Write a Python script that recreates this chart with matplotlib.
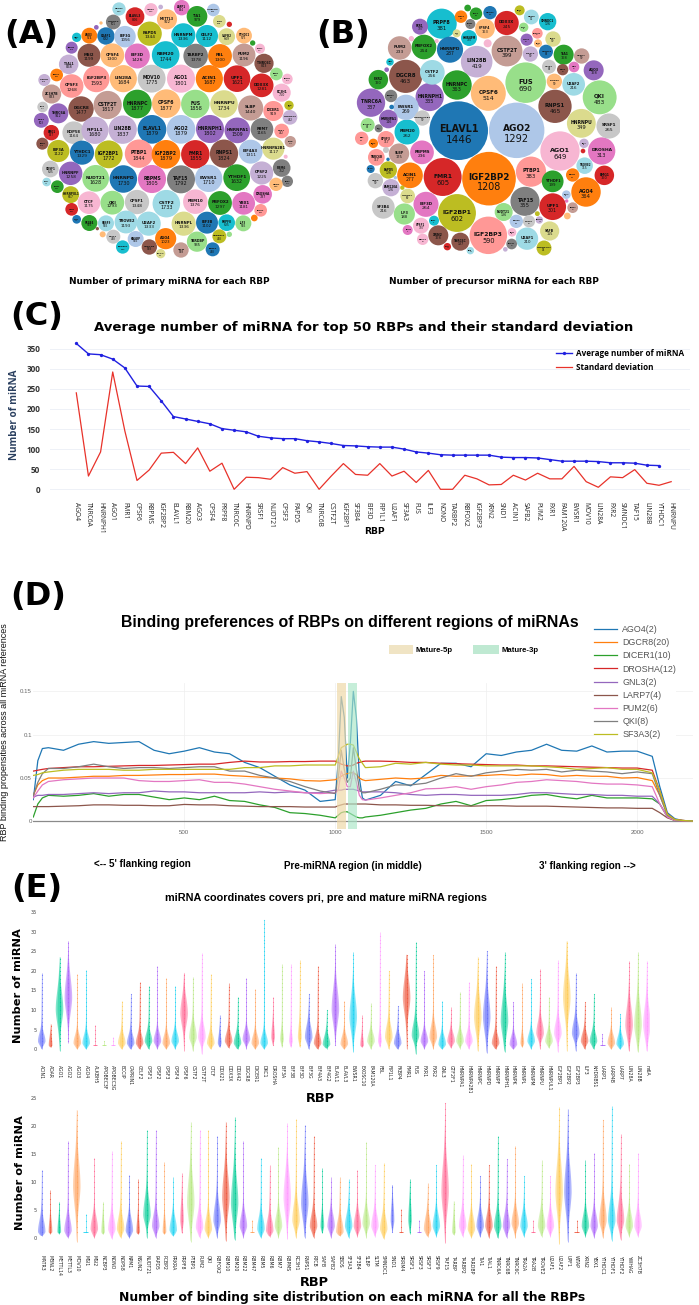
import numpy as np
import matplotlib
matplotlib.use("Agg")
import matplotlib.pyplot as plt
from matplotlib.patches import Circle, Rectangle

W, H = 699, 1305
fig = plt.figure(figsize=(W / 100, H / 100), dpi=100, facecolor="white")


def px_axes(x0, y0, x1, y1, **kw):
    return fig.add_axes([x0 / W, 1 - y1 / H, (x1 - x0) / W, (y1 - y0) / H], **kw)


# ------------------------------------------------------------------ panel A data
a_names = ["NSUN2","ELAVL3","ATXN2","","METTL3","LARP1","TIA1","APOBEC3F","HNRNPK","PAPD5",
 "HNRNPM","CELF2","SAFB","","SAFB2","YTHDC2","LARP7","AGO3","U2AF1","EIF3G",
 "","","EIF4G2","MSI2","CPSF4","EIF3D","RBM20","TARBP2","FBL","PUM2",
 "TNRC6C","","RBM22","TIAL1","SRSF7","CAPRIN1","IGF2BP3","LIN28A","MOV10","AGO1",
 "ACIN1","UPF1","DDX3X","SND1","RBM47","RC3H1","CPSF3","ZC3H7B","YBX3","HNRNPA0",
 "DICER1","GNL3","DGCR8","CSTF2T","HNRNPC","CPSF6","FUS","HNRNPU","SLBP","TNRC6A",
 "FXR2","NOP58","FIP1L1","LIN28B","ELAVL1","AGO2","HNRNPH1","HNRNPA1","RBM7","FXR1",
 "EMG1","RBM5","EIF3A","YTHDC1","IGF2BP1","PTBP1","IGF2BP2","FMR1","RNPS1","EIF4A3",
 "HNRNPA2B1","RTCB","","RBM6","SBDS","SRSF1","HNRNPF","NUDT21","HNRNPD","RBPMS",
 "TAF15","EWSR1","YTHDF1","CPSF2","NONO","DDX21","NPM1","HNRNPUL1","DROSHA","CTCF",
 "QKI","CPSF1","CSTF2","RBM10","RBFOX2","YBX1","XRN2","TRA2A","SF3A3","SF3B4",
 "SRSF9","TROVE2","U2AF2","HNRNPL","EIF3B","PRPF8","ILF3","","","",
 "SRSF3","KHSRP","AGO4","KHDRBS1","","SMNDC1","TNRC6B","SLTM","TARDBP","FKBP4","METTL14"]
a_values = [403,806,392,50,922,544,979,360,501,1344,
 1336,1112,368,65,649,575,199,574,692,1056,
 50,25,329,1199,1300,1426,1744,1378,1300,1196,
 843,65,229,868,367,329,1593,1684,1775,1801,
 1687,1621,1281,367,260,750,1268,833,199,492,
 919,260,1477,1817,1877,1877,1858,1734,1440,912,
 503,1164,1680,1837,1879,1879,1802,1509,1165,492,
 547,329,1122,1329,1772,1844,1879,1855,1824,1311,
 1117,294,37,712,294,635,1258,1628,1730,1805,
 1792,1710,1632,1225,406,172,367,657,787,1175,
 1293,1348,1733,1376,1297,1181,367,367,172,585,
 585,1193,1333,1336,1102,635,585,102,25,82,
 448,585,1023,448,65,406,538,538,935,448,199]
a_x = [357,405,453,482,501,545,591,640,340,449,
 550,621,658,688,680,732,230,268,318,375,
 289,303,215,267,337,412,497,587,660,732,
 792,758,780,206,170,133,289,370,455,543,
 628,711,785,829,862,845,215,155,867,870,
 820,128,243,323,412,499,586,672,752,175,
 124,221,285,368,456,543,630,712,786,845,
 154,127,175,246,326,417,498,586,672,752,
 820,871,857,845,862,151,212,287,370,456,
 543,626,710,785,828,140,172,212,788,267,
 337,411,499,586,660,731,215,782,230,268,
 318,378,446,551,621,680,730,763,292,308,
 340,407,497,658,688,368,448,543,591,638,482]
a_y = [27,50,29,21,58,23,49,30,66,101,
 106,108,64,73,110,107,112,107,108,110,
 82,69,143,166,166,168,165,168,168,165,
 190,129,146,193,225,240,237,236,236,236,
 236,236,256,222,237,278,258,282,316,352,
 333,321,327,315,312,311,312,312,324,340,
 361,398,391,389,388,388,387,391,388,393,
 398,431,453,458,463,461,463,463,461,455,
 446,425,470,504,544,507,520,535,537,537,
 538,535,533,519,553,546,560,584,583,608,
 608,606,611,605,609,610,628,631,658,669,
 670,666,671,671,668,668,670,654,686,703,
 710,717,716,709,703,741,741,750,725,748,761]
a_colors = [19,6,13,9,3,12,4,1,14,16,
 18,18,17,6,17,3,18,2,0,1,
 8,3,8,10,3,12,18,14,2,11,
 10,4,13,9,2,9,7,3,15,13,
 2,6,6,5,13,13,7,11,16,9,
 7,15,10,11,4,3,5,17,11,8,
 8,15,9,9,0,1,8,8,14,7,
 6,10,16,0,16,7,2,6,10,1,
 17,11,13,14,14,15,8,5,0,12,
 14,1,4,9,3,19,4,16,12,13,
 5,15,19,13,4,12,6,7,0,4,
 19,19,19,17,0,18,5,2,10,3,
 15,1,2,16,5,18,10,11,5,0,17]

# ------------------------------------------------------------------ panel B data
b_names = ["ELAVL1","AGO2","IGF2BP2","FMR1","IGF2BP1","IGF2BP3","FUS","CPSF6","AGO1","QKI",
 "RNPS1","DGCR8","LIN28B","CSTF2T","HNRNPC","PRPF8","HNRNPU","TNRC6A","HNRNPH1","DROSHA",
 "AGO4","SRSF1","PTBP1","TAF15","UPF1","EIF3D","ACIN1","RBPMS","RBM20","EWSR1",
 "CSTF2","PUM2","RBFOX2","HNRNPD","DDX3X","CPSF4","SF3B4","ILF3","SLBP","U2AF2",
 "YTHDF1","U2AF1","XRN2","TNRC6C","SAFB","TROVE2","EMG1","TIA1","HNRNPUL1","FXR2",
 "PAPD5","FAM120A","CPSF3","TNRC6B","SBDS","NUDT21","HNRNPA1","HNRNPL","CPSF1","ELAVL3",
 "FBL","HNRNPM","FIP1L1","SRSF7","AGO3","CPSF2","NONO","MSI2","LIN28A","ILF2",
 "YTHDC1","HNRNPK","CPSF7","RBM3","RBMX","SMNDC1","SND1","NSUN2","TIAL1","SAFB2",
 "LARP7","NCBP3","FXR1","GNL3","","","HNRNPA2B1","","CELF2","LARP1",
 "RBM22","RBM7","","","SF3A3","","EIF4G2","","DKC1","",
 "RBM5","","RBM10","MOV10","FKBP4","NPM1","","SRSF9","KHDRBS1","SRSF3",
 "DICER1","","METTL3","TRA2A","DDX21","RTCB","","",""]
b_values = [1446,1292,1208,605,602,590,690,514,649,483,
 465,463,419,399,363,381,349,337,335,313,
 364,265,383,355,301,264,277,236,262,269,
 256,233,254,287,245,163,216,188,175,216,
 199,210,168,137,155,115,160,168,94,160,
 126,126,117,117,99,136,146,90,107,82,
 75,107,99,99,168,82,54,48,99,99,
 82,48,62,37,92,126,42,75,65,19,
 65,42,107,27,27,7,99,12,27,23,
 65,27,9,9,37,15,27,5,37,9,
 75,19,31,62,48,42,10,75,23,31,
 48,9,54,42,23,23,8,5,5]
b_x = [446,620,537,398,441,535,647,535,750,869,
 735,287,500,591,441,395,814,183,359,875,
 828,897,663,645,728,348,300,336,291,288,
 367,269,342,420,590,525,220,283,267,791,
 728,651,385,451,719,824,883,761,702,205,
 235,243,228,199,196,581,235,293,333,173,
 155,477,661,815,851,717,758,792,733,729,
 708,682,650,641,664,713,629,540,498,473,
 453,481,330,440,533,380,337,304,684,240,
 243,206,230,245,190,228,182,234,822,819,
 788,772,769,657,788,372,682,619,688,606,
 605,586,338,293,412,481,277,256,770]
b_y = [392,391,536,531,639,706,248,280,453,292,
 319,229,185,153,255,71,370,308,291,453,
 576,378,515,604,620,613,526,457,396,322,
 217,144,141,149,69,86,622,642,461,253,
 544,716,706,725,693,497,526,164,744,239,
 510,563,418,472,542,636,357,588,677,375,
 415,114,162,168,211,200,209,201,244,117,
 155,100,119,82,51,65,31,38,41,24,
 50,72,80,100,130,123,354,116,130,186,
 288,385,209,321,430,450,507,478,430,453,
 525,648,584,664,623,662,641,664,660,697,
 732,748,718,690,740,752,563,533,603]
b_colors = [0,1,2,6,16,7,5,3,13,5,
 10,10,9,11,4,18,17,8,8,12,
 2,15,7,14,6,12,2,12,18,1,
 19,11,4,0,6,3,15,5,11,19,
 4,19,10,10,17,19,6,4,16,4,
 16,9,7,7,15,5,8,17,13,5,
 7,18,9,11,8,15,10,12,3,17,
 0,7,8,5,19,18,16,0,4,4,
 2,14,8,17,13,13,15,13,3,18,
 14,14,8,0,2,15,0,0,9,6,
 2,3,1,15,11,18,16,1,9,13,
 14,9,13,12,6,19,16,1,12]

# ------------------------------------------------------------------ panel C data
c_rbps = ["AGO4","TNRC6A","HNRNPH1","AGO1","FMR1","CPSF6","RBPMS","IGF2BP2","ELAVL1","RBM20",
 "AGO3","CPSF4","PRPF8","TNRC6C","HNRNPD","SRSF1","NUDT21","CPSF3","PAPD5","QKI",
 "TNRC6B","CSTF2T","IGF2BP1","SF3B4","EIF3D","FIP1L1","U2AF1","SF3A3","FUS","ILF3",
 "NONO","TARBP2","RBFOX2","IGF2BP3","XRN2","SND1","ACIN1","SAFB2","PUM2","FXR1",
 "FAM120A","EWSR1","MOV10","LIN28A","FXR2","SMNDC1","TAF15","LIN28B","YTHDC1","HNRNPU"]
c_mean = [363,337,335,324,302,257,256,220,181,175,
 169,163,151,147,143,132,128,126,126,121,
 118,114,109,108,106,105,105,100,93,90,
 86,85,85,85,85,80,79,79,78,74,
 70,70,70,69,66,66,65,60,59,np.nan]
c_std = [240,33,93,292,145,22,48,90,92,64,
 103,45,65,0,30,29,25,54,40,44,
 0,33,64,37,35,64,33,45,17,47,
 0,0,35,26,11,12,35,23,40,26,
 26,57,19,5,31,29,49,15,10,19]

# ------------------------------------------------------------------ panel D data
d_pos = [0,15,30,50,100,150,200,250,300,350,400,450,500,550,600,650,700,750,800,850,900,950,1000,
 1010,1020,1030,1040,1050,1060,1070,1080,1090,1100,
 1150,1200,1250,1300,1350,1400,1450,1500,1550,1600,1650,1700,1750,1800,1850,1900,1950,2000,2050,
 2075,2100,2125,2150,2185]
d_ago4 = [.025,.070,.084,.085,.082,.089,.092,.090,.091,.092,.082,.078,.081,.085,.080,.078,.068,.062,.052,.042,.036,.023,.025,
 .070,.144,.120,.050,.090,.150,.120,.050,.027,.0245,
 .030,.046,.041,.054,.067,.067,.063,.078,.076,.080,.082,.089,.082,.081,.087,.080,.081,.081,.075,
 .040,.010,.003,.001,.0003]
d_dgcr8 = [.030,.042,.047,.050,.050,.051,.052,.052,.053,.053,.0535,.054,.054,.0545,.0545,.053,.052,.051,.050,.049,.047,.0465,.048,
 .050,.052,.054,.055,.056,.056,.054,.050,.048,.047,
 .0485,.050,.049,.050,.053,.052,.0525,.053,.054,.053,.0545,.054,.052,.053,.052,.052,.050,.0505,.047,
 .030,.008,.002,.001,.0003]
d_dicer1 = [.005,.020,.027,.030,.029,.030,.032,.029,.031,.031,.028,.025,.027,.025,.029,.024,.023,.019,.016,.010,.009,.007,.004,
 .007,.010,.011,.011,.009,.007,.005,.004,.004,.005,
 .007,.010,.013,.015,.020,.023,.018,.024,.025,.027,.030,.031,.028,.026,.030,.027,.027,.027,.026,
 .020,.005,.001,.0005,.0002]
d_drosha = [.058,.059,.060,.061,.062,.063,.063,.0635,.064,.0645,.0645,.065,.0655,.066,.066,.068,.0695,.0685,.0685,.069,.069,.0695,.0695,
 .068,.066,.065,.064,.064,.065,.067,.068,.069,.0695,
 .0695,.069,.068,.068,.067,.0665,.066,.0655,.065,.065,.064,.064,.0635,.063,.0625,.062,.0615,.0615,.059,
 .035,.008,.002,.001,.0003]
d_gnl3 = [.028,.030,.030,.031,.031,.032,.033,.032,.033,.033,.035,.034,.034,.033,.033,.033,.033,.034,.033,.034,.033,.033,.036,
 .036,.036,.037,.037,.037,.037,.036,.035,.034,.034,
 .034,.033,.031,.030,.031,.031,.030,.030,.030,.031,.033,.033,.032,.031,.031,.030,.030,.029,.029,
 .020,.006,.001,.0005,.0002]
d_larp7 = [.017,.017,.017,.017,.0175,.018,.019,.019,.0185,.0185,.018,.018,.0195,.019,.019,.018,.0175,.017,.017,.017,.0165,.0165,.0165,
 .018,.019,.020,.020,.020,.020,.020,.020,.020,.020,
 .019,.019,.0185,.0185,.018,.018,.0175,.018,.018,.0175,.0175,.0175,.017,.0165,.016,.0155,.0155,.015,.015,
 .010,.004,.001,.0005,.0002]
d_pum2 = [.027,.035,.042,.046,.048,.049,.050,.050,.050,.047,.046,.046,.047,.048,.045,.045,.043,.040,.037,.035,.033,.032,.033,
 .036,.058,.050,.040,.040,.058,.045,.030,.025,.0245,
 .027,.030,.033,.0375,.038,.040,.037,.040,.042,.045,.046,.048,.047,.046,.044,.043,.043,.042,.040,
 .020,.005,.001,.0005,.0002]
d_qki = [.030,.045,.055,.061,.061,.063,.066,.063,.061,.062,.062,.061,.062,.063,.063,.058,.058,.053,.050,.046,.040,.035,.032,
 .050,.082,.060,.045,.050,.085,.060,.037,.033,.033,
 .037,.042,.042,.044,.050,.055,.052,.056,.058,.060,.059,.060,.057,.059,.058,.057,.055,.057,.055,
 .030,.007,.002,.001,.0003]
d_sf3a3 = [.053,.054,.056,.057,.059,.060,.060,.060,.059,.059,.060,.060,.060,.060,.060,.060,.062,.062,.064,.064,.065,.065,.065,
 .075,.085,.087,.089,.089,.088,.080,.072,.067,.062,
 .063,.067,.066,.068,.066,.065,.065,.064,.064,.064,.064,.063,.062,.060,.061,.062,.060,.060,.056,
 .035,.008,.002,.001,.0003]
d_labels = ["AGO4(2)","DGCR8(20)","DICER1(10)","DROSHA(12)","GNL3(2)","LARP7(4)","PUM2(6)","QKI(8)","SF3A3(2)"]
d_span5p = (1005, 1037)
d_span3p = (1042, 1072)

# ------------------------------------------------------------------ panel E data
e1_names = ["ACIN1","ADAR","AGO1","AGO2","AGO3","AGO4","ALKBH5","APOBEC3F","APOBEC3G","BCCIP",
 "CAPRIN1","CELF2","CPSF1","CPSF2","CPSF3","CPSF4","CPSF6","CSTF2","CSTF2T","CTCF",
 "DDX21","DDX3X","DDX42","DGCR8","DICER1","DKC1","DROSHA","EIF3A","EIF3B","EIF3D",
 "EIF3G","EIF4A3","EIF4G2","ELAVL1","ELAVL3","EWSR1","EXOSC10","FAM120A","FBL","FIP1L1",
 "FKBP4","FMR1","FUS","FXR1","FXR2","GNL3","GTF2F1","HNRNPA1","HNRNPA2B1","HNRNPC",
 "HNRNPD","HNRNPF","HNRNPH1","HNRNPK","HNRNPL","HNRNPM","HNRNPU","HNRNPUL1","IGF2BP1","IGF2BP2",
 "IGF2BP3","ILF3","KHDRBS1","LARP1","LARP4B","LARP7","LIN28A","LIN28B","m6A"]
e1_high = [19.4,6.5,23.5,27.6,19.2,20.2,6.2,2,3.2,12.2,
 14.1,17.2,16.1,21.2,18.2,16.1,19.5,18.4,24.5,19.2,
 8.8,16.8,13.4,18.2,15.4,33.1,13.4,21.7,21.8,22.8,
 14.1,21.2,10,26.8,12.2,24.8,8.8,11.9,29.8,20,
 11,24.1,27.4,20,24.1,12.2,10.9,14.6,17.2,23.6,
 25,21.2,24.8,12,16.8,18,20.5,13.3,22.8,27.5,
 19.5,12,14,4,10.9,9,22.5,24.7,22.6]
e1_mode = [2,1,10,13,1.5,1.5,1,1,1,1.5,
 1.5,1.5,2,2,1.5,2,9,3,3,1.5,
 1.5,2,1.5,2.5,1.5,1.5,3,2.5,2,3,
 3,1.5,1.2,10,1.3,8,1,2,2,3,
 1.5,13,3.5,2,3,1.2,2,2,2,8,
 8,1.5,7,1.2,1.5,2,4,2,4,13,
 4,2,2,1,1.5,1.3,6,6,6]
e1_low = [0,.5,-.5,1.5,0,0,1,1,1,0,
 0,0,0,0,0,0,-.5,-.5,-1.3,0,
 .5,.3,0,0,0,0,1,.5,.5,.5,
 0,0,.2,1,0,-.7,.5,0,.5,0,
 0,0,-1.3,0,0,0,.3,.2,0,-.5,
 -1,0,-.7,0,.5,0,0,.3,-.7,-.5,
 -.5,0,0,1,0,0,-.5,-.7,-.5]

e2_names = ["MATR3","MBNL2","METTL14","METTL3","MOV10","MSI1","MSI2","NCBP3","NONO","NOP58",
 "NPM1","NSUN2","NUDT21","PAPD5","PCBP2","PRKRA","PRPF8","PTBP1","PUM2","QKI",
 "RBFOX2","RBM10","RBM20","RBM22","RBM47","RBM5","RBM6","RBM7","RBPMS","RC3H1",
 "RNPS1","RTCB","SAFB","SAFB2","SBDS","SF3A3","SF3B4","SLBP","SLTM","SMNDC1",
 "SND1","SRRM4","SRSF1","SRSF3","SRSF7","SRSF9","TAF15","TARBP","TARBP2","TARDBP",
 "TIA1","TIAL1","TNRC6A","TNRC6B","TNRC6C","TRA2A","TRA2B","TROVE2","U2AF1","U2AF2",
 "UPF1","WTAP","XRN2","YBX1","YTHDC1","YTHDF1","YTHDF2","YWHAG","ZC3H7B"]
e2_high = [12.1,8.5,6.4,17.3,22.8,4.2,14.2,6.4,15.5,17.3,
 11.2,10.5,19.2,19.2,13.5,10.9,11.5,20.7,19.2,19.2,
 18.2,20.7,21.5,17.3,3.2,14.2,12.9,16.2,20.4,21.2,
 20.1,18.2,12.4,10.9,10.8,10.4,12.1,17.1,13,13.3,
 9.4,5.1,10.4,3.2,9.8,13,24,6.5,14.8,13.2,
 11,13,18.2,14,16.3,11,3.2,13.9,11,23.3,
 22.9,3.2,13.9,15.2,21.1,23.6,18.5,13.2,15.2]
e2_mode = [1,1,1,1.2,9,1,1.5,1,1.5,1.5,
 1.2,1,4,2,1,1.3,3,6,1.8,1.5,
 3,7,6,2,1,1.5,1.2,2,7,3,
 6,2,2,2,1,2,2,2.5,2,1.5,
 3,1,3,1,1.5,2,8,1,2,1.5,
 2,2,2,2,2.5,2,1,2,2,8,
 8,1,2,2,3,3,3,2,2]
e2_low = [.3,.7,.7,0,-.7,1,0,.6,-.2,0,
 0,.6,0,0,.6,.3,.8,-.7,0,0,
 0,-.6,-.4,0,1,0,.2,0,-.3,0,
 0,0,.8,0,.3,0,.2,0,.2,-.2,
 1,1,.7,1,.2,.2,-1,.5,.2,0,
 .1,0,-.1,0,-.1,.2,1,.2,.2,-1.2,
 -.7,1,.2,0,0,-.5,-.4,.2,.2]

plotly_cycle = ["#636EFA","#EF553B","#00CC96","#AB63FA","#FFA15A","#19D3F3","#FF6692","#B6E880","#FF97FF","#FECB52"]
d_colors = ["#1f77b4","#ff7f0e","#2ca02c","#d62728","#9467bd","#8c564b","#e377c2","#7f7f7f","#bcbd22"]
tab20 = plt.get_cmap("tab20").colors

# ------------------------------------------------------------------ overlay in pixels
ov = px_axes(0, 0, W, H, zorder=10)
ov.set_xlim(0, W)
ov.set_ylim(H, 0)
ov.axis("off")
ov.patch.set_alpha(0)


def label(x, y, s, size, family="DejaVu Sans", weight="bold", ha="center", **kw):
    ov.text(x, y, s, fontsize=size, family=family, fontweight=weight, ha=ha, va="center", **kw)


# ------------------------------------------------------------------ bubbles
def bubbles(x0, names, values, xs, ys, colors, k):
    ax = px_axes(x0, 0, x0 + 310, 290)
    ax.set_xlim(0, 930)
    ax.set_ylim(870, 0)
    ax.axis("off")
    for n, v, x, y, c in zip(names, values, xs, ys, colors):
        r = k * np.sqrt(v)
        ax.add_patch(Circle((x, y), r, facecolor=tab20[c], edgecolor="none"))
        if n and r >= 11:
            fs = 0.078 * r
            ax.text(x, y - 0.05 * r, n, fontsize=fs, fontweight="bold", ha="center", va="center", color="#111111")
            ax.text(x, y + 0.31 * r, str(v), fontsize=fs * 1.1, ha="center", va="center", color="#111111")


bubbles(0, a_names, a_values, a_x, a_y, a_colors, 43 / np.sqrt(1879))
bubbles(310, b_names, b_values, b_x, b_y, b_colors, 88 / np.sqrt(1446))
label(169, 281, "Number of primary miRNA for each RBP", 6.4)
label(494, 281, "Number of precursor miRNA for each RBP", 6.4)
label(31, 34, "(A)", 23)
label(343, 35, "(B)", 23)

# ------------------------------------------------------------------ panel C
axc = px_axes(50, 340, 690, 492)
xc = np.arange(len(c_rbps))
axc.set_xlim((50 - 76.3) / 12.14, (690 - 76.3) / 12.14)
axc.set_ylim((489.3 - 492) / 0.4018, (489.3 - 340) / 0.4018)
l1, = axc.plot(xc, c_mean, color="#2020e0", lw=1.0, marker="o", ms=2.4, mew=0)
l2, = axc.plot(xc, c_std, color="#e8322a", lw=0.9)
for s in axc.spines.values():
    s.set_visible(False)
axc.grid(axis="y", color="#eef1f7", lw=0.7)
axc.set_axisbelow(True)
axc.set_yticks(range(0, 351, 50))
axc.set_xticks(xc)
axc.set_xticklabels(c_rbps, rotation=270, fontsize=4.8, family="Open Sans", ha="center", va="top", color="#222222")
axc.tick_params(axis="x", length=0, pad=7)
axc.tick_params(axis="y", length=0, pad=7, labelsize=5.9, labelcolor="#333333")
for t in axc.get_yticklabels():
    t.set_family("Open Sans")
    t.set_fontweight("bold")
axc.legend([l1, l2], ["Average number of miRNA", "Standard deviation"], loc="upper left",
           bbox_to_anchor=(556 / W, 1 - 349 / H), bbox_transform=fig.transFigure,
           frameon=False, borderpad=0, borderaxespad=0, handlelength=2.0, handletextpad=0.4, labelspacing=0.65,
           prop={"family": "Open Sans", "weight": "bold", "size": 5.9})
label(374, 532, "RBP", 6.6)
label(15, 415, "Number of miRNA", 7.1, family="Open Sans", rotation=90, color="#2a3f5f")
label(364, 327, "Average number of miRNA for top 50 RBPs and their standard deviation", 9.5)
label(37, 317, "(C)", 23)

# ------------------------------------------------------------------ panel D
axd = px_axes(33.3, 682.7, 693, 828.7)
axd.set_xlim(0, 2185)
axd.set_ylim(-0.0085, 0.16)
series = [d_ago4, d_dgcr8, d_dicer1, d_drosha, d_gnl3, d_larp7, d_pum2, d_qki, d_sf3a3]
hs = []
for vals, c in zip(series, d_colors):
    h, = axd.plot(d_pos, vals, color=c, lw=0.9)
    hs.append(h)
axd.axvspan(*d_span5p, color="#efd9a8", alpha=0.7, lw=0, zorder=5)
axd.axvspan(*d_span3p, color="#a8e6c6", alpha=0.65, lw=0, zorder=5)
axd.axhline(0, color="#8a8a8a", lw=0.9, zorder=1)
for s in axd.spines.values():
    s.set_visible(False)
axd.set_xticks([500, 1000, 1500, 2000])
axd.set_yticks([0, 0.05, 0.1, 0.15])
axd.set_yticklabels(["0", "0.05", "0.1", "0.15"])
axd.grid(color="#eeeeee", lw=0.5)
axd.set_axisbelow(True)
axd.tick_params(length=0, pad=1, labelsize=4.4, labelcolor="#666666")
for t in axd.get_xticklabels() + axd.get_yticklabels():
    t.set_family("Liberation Sans")
leg = axd.legend(hs, d_labels, loc="upper left", bbox_to_anchor=(594 / W, 1 - 625 / H),
                 bbox_transform=fig.transFigure, frameon=True, facecolor="white", edgecolor="none", framealpha=1,
                 borderpad=0, borderaxespad=0, handlelength=2.6, handletextpad=0.6, labelspacing=0.47,
                 prop={"family": "Liberation Sans", "size": 6.4}, labelcolor="#555555")
leg.set_zorder(20)
label(350, 622, "Binding preferences of RBPs on different regions of miRNAs", 11.4, family="Liberation Sans")
ov.add_patch(Rectangle((389, 645), 24, 8.5, facecolor="#f0e4c4", edgecolor="none"))
ov.add_patch(Rectangle((473, 645), 26, 8.5, facecolor="#bfe9d2", edgecolor="none"))
label(416, 651, "Mature-5p", 5.6, family="Liberation Sans", ha="left")
label(501, 650, "Mature-3p", 5.6, family="Liberation Sans", ha="left")
label(5, 732, "RBP binding propensities across all miRNA references", 6.45, family="Liberation Sans", weight="normal", rotation=90, color="#111111")
label(142, 864, "<-- 5' flanking region", 7.1, family="Liberation Sans")
label(353, 866, "Pre-miRNA region (in middle)", 7.1, family="Liberation Sans")
label(587, 866, "3' flanking region -->", 7.1, family="Liberation Sans")
label(38, 597, "(D)", 23)


# ------------------------------------------------------------------ panel E
def violin_stats(low, mode, high):
    coords = np.linspace(low, high, 120)
    span = high - low
    if mode >= 6:
        s_lo, s_up, tail = 0.17 * span, 0.2 * span, 0.08
    elif mode >= 3:
        s_lo, s_up, tail = 1.6, 2.8, 0.12
    else:
        s_lo, s_up, tail = 1.2, 2.0, 0.10
    sig = np.where(coords < mode, s_lo, s_up)
    vals = np.exp(-0.5 * ((coords - mode) / sig) ** 2) + tail * (1 - (coords - low) / span)
    vals *= np.sqrt(np.clip((coords - low) / max(mode - low, 0.3), 0, 1))
    return dict(coords=coords, vals=vals, mean=mode, median=mode, min=low, max=high)


def violins(ax, names, highs, modes, lows):
    for i, (hi, mo, lo) in enumerate(zip(highs, modes, lows)):
        c = plotly_cycle[i % 10]
        ax.vlines(i, lo, hi, color=c, lw=0.5, alpha=0.7, zorder=2)
        levels = np.arange(max(np.ceil(lo), 1), np.floor(hi) + 1)
        ax.scatter(np.full(levels.shape, i), levels, s=0.7, color=c, lw=0, alpha=0.8, zorder=3)
        if mo <= lo:
            # a violin collapsed on its lowest level: a stem with a cap
            ax.hlines(lo, i - 0.25, i + 0.25, color=c, lw=0.6, zorder=3)
            continue
        narrow = 0.5 if (lo >= 0.5 and mo < 6) else 1.0
        st = violin_stats(lo, mo, hi)
        for width, alpha in ((0.85 * narrow, 0.5), (0.45 * narrow, 0.45)):
            parts = ax.violin([st], positions=[i], widths=[width], showmeans=False, showextrema=False, showmedians=False)
            for b in parts["bodies"]:
                b.set_facecolor(c)
                b.set_edgecolor("none")
                b.set_alpha(alpha)
                b.set_zorder(2)
    for s in ax.spines.values():
        s.set_visible(False)
    ax.set_xticks(range(len(names)))
    ax.set_xticklabels(names, rotation=270, fontsize=3.3, ha="center", va="top", color="#222222")
    ax.tick_params(length=0)
    ax.tick_params(axis="y", pad=1, labelsize=3.6, labelcolor="#444444")


ax1 = px_axes(38, 905, 650, 1060)
ax1.set_xlim((38 - 41.7) / 8.9, (650 - 41.7) / 8.9)
ax1.set_ylim((1049.3 - 1060) / 3.92, (1049.3 - 905) / 3.92)
violins(ax1, e1_names, e1_high, e1_mode, e1_low)
ax1.set_yticks(range(0, 36, 5))
ax1.tick_params(axis="x", pad=3.6)

ax2 = px_axes(38, 1093, 650, 1248)
ax2.set_xlim((38 - 41.7) / 8.77, (650 - 41.7) / 8.77)
ax2.set_ylim((1237.7 - 1248) / 5.6, (1237.7 - 1093) / 5.6)
violins(ax2, e2_names, e2_high, e2_mode, e2_low)
ax2.set_yticks(range(0, 26, 5))
ax2.tick_params(axis="x", pad=5)

label(326, 898, "miRNA coordinates covers pri, pre and mature miRNA regions", 7.8, family="Liberation Sans")
label(18, 986, "Number of miRNA", 8.2, rotation=90)
label(20, 1173, "Number of miRNA", 8.2, rotation=90)
label(320, 1098, "RBP", 9.3)
label(314, 1283, "RBP", 9.3)
label(352, 1298, "Number of binding site distribution on each miRNA for all the RBPs", 8.9)
label(37, 889, "(E)", 23)

fig.savefig("out.png", dpi=100, facecolor="white")
